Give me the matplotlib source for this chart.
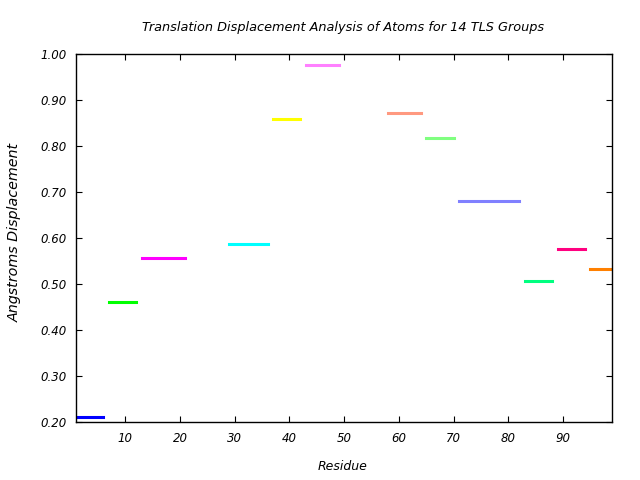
import matplotlib
matplotlib.use("Agg")
import matplotlib.pyplot as plt

title = "Translation Displacement Analysis of Atoms for 14 TLS Groups"
x_label = "Residue"
y_label = "Angstroms Displacement"

seg_start = [1, 7, 13, 29, 37, 43, 58, 65, 71, 83, 89, 95]
seg_end = [6, 12, 21, 36, 42, 49, 64, 70, 82, 88, 94, 99]
seg_value = [0.211, 0.461, 0.557, 0.587, 0.859, 0.976, 0.872, 0.817, 0.680, 0.507, 0.576, 0.533]
seg_color = ["#0000ff", "#00ff00", "#ff00ff", "#00ffff", "#ffff00", "#ff80ff",
             "#ff9980", "#80ff80", "#8080ff", "#00ff80", "#ff0080", "#ff8000"]

x_ticks = [10, 20, 30, 40, 50, 60, 70, 80, 90]
y_ticks = [0.2, 0.3, 0.4, 0.5, 0.6, 0.7, 0.8, 0.9, 1.0]

plt.rcParams['font.family'] = ['DejaVu Sans']
fig = plt.figure(figsize=(6.4, 4.8), dpi=100)
ax = fig.add_axes([76/640, 1-422.3/480, (612.3-76)/640, (422.3-54.3)/480])

for s, e, v, c in zip(seg_start, seg_end, seg_value, seg_color):
    ax.plot([s, e], [v, v], color=c, lw=2.2, solid_capstyle='projecting', clip_on=True)

ax.set_xlim(1, 99)
ax.set_ylim(0.2, 1.0)
ax.set_xticks(x_ticks)
ax.set_yticks(y_ticks)
ax.set_xticklabels([str(t) for t in x_ticks], fontstyle='italic', fontsize=8.5)
ax.set_yticklabels(["%.2f" % t for t in y_ticks], fontstyle='italic', fontsize=8.5)
ax.tick_params(direction='in', length=4.5, width=0.8, top=True, right=True, pad=7, colors='black')
for sp in ax.spines.values():
    sp.set_linewidth(1.0)

fig.text(343.5/640, 1-27/480, title, ha='center', va='center', fontstyle='italic', fontsize=9.3)
fig.text(343/640, 1-467/480, x_label, ha='center', va='center', fontstyle='italic', fontsize=9)
fig.text(15/640, 1-232/480, y_label, ha='center', va='center', rotation=90, fontstyle='italic', fontsize=10.3)

fig.savefig("out.png", dpi=100)
